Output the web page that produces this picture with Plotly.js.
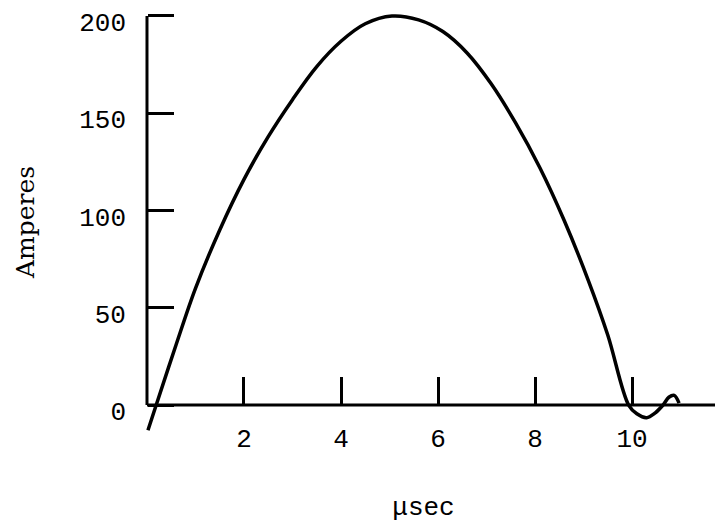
<!DOCTYPE html>
<html>
<head>
<meta charset="utf-8">
<script src="https://cdn.plot.ly/plotly-3.0.1.min.js"></script>
<style>html,body{margin:0;padding:0;background:#fff;}#chart{width:715px;height:523px;}</style>
</head>
<body>
<div id="chart"></div>
<script>
// Data
const timeUs = [0.02, 0.19, 0.6, 1.0, 1.5, 2.0, 2.5, 3.0, 3.5, 4.0, 4.5, 5.05, 5.6, 6.1, 6.6, 7.1, 7.6, 8.1, 8.6, 9.1, 9.5, 9.93, 10.1, 10.3, 10.48, 10.64, 10.76, 10.87, 10.97];
const amperes = [-13, 0, 31, 60, 90, 116, 138, 157, 174, 187, 196, 200, 198, 192, 181, 165, 145, 122, 95, 64, 36, 0, -4.5, -6.5, -4, 0, 4, 5, 1];
const xTicks = [2, 4, 6, 8, 10];
const yTicks = [0, 50, 100, 150, 200];
const xAxisTitle = 'μsec';
const yAxisTitle = 'Amperes';

const xMin = -0.309, xMax = 11.711;
const yMin = -14.9, yMax = 203.08;
const xAxisEnd = xMax;
const yAxisTop = 200;

const trace = {
  x: timeUs, y: amperes, type: 'scatter', mode: 'lines',
  line: {color: '#000', width: 3.5, shape: 'spline', smoothing: 1},
  hoverinfo: 'skip', showlegend: false
};

const monoFamily = 'Liberation Mono, DejaVu Sans Mono, monospace';
const tickFont = {family: monoFamily, size: 26, color: '#000'};

const layout = {
  width: 715, height: 523,
  margin: {l: 132, r: 0, t: 10, b: 89, pad: 0},
  paper_bgcolor: '#fff', plot_bgcolor: '#fff',
  showlegend: false,
  xaxis: {
    range: [xMin, xMax], anchor: 'free', position: (0 - yMin) / (yMax - yMin),
    tickmode: 'array', tickvals: xTicks, ticktext: xTicks.map(String),
    ticks: 'inside', ticklen: 28, tickwidth: 3, tickcolor: '#000',
    showline: false, showgrid: false, zeroline: false,
    tickfont: tickFont, ticklabelstandoff: 15,
    title: {text: xAxisTitle, font: {family: monoFamily, size: 26, color: '#000'}, standoff: 48}
  },
  yaxis: {
    range: [yMin, yMax], anchor: 'free', position: (0 - xMin) / (xMax - xMin),
    tickmode: 'array', tickvals: yTicks, ticktext: yTicks.map(String),
    ticks: 'inside', ticklen: 26, tickwidth: 3, tickcolor: '#000',
    showline: false, showgrid: false, zeroline: false,
    tickfont: tickFont, ticklabelstandoff: 21, ticklabelshift: 6,
    title: {text: yAxisTitle, font: {family: 'DejaVu Serif, Liberation Serif, serif', size: 25, color: '#000'}, standoff: 36}
  },
  shapes: [
    {type: 'line', xref: 'x', yref: 'y', x0: 0, x1: 0, y0: 0, y1: yAxisTop, line: {color: '#000', width: 3}},
    {type: 'line', xref: 'x', yref: 'y', x0: 0, x1: xAxisEnd, y0: 0, y1: 0, line: {color: '#000', width: 3}}
  ]
};

Plotly.newPlot('chart', [trace], layout, {staticPlot: true, displayModeBar: false});
</script>
</body>
</html>
